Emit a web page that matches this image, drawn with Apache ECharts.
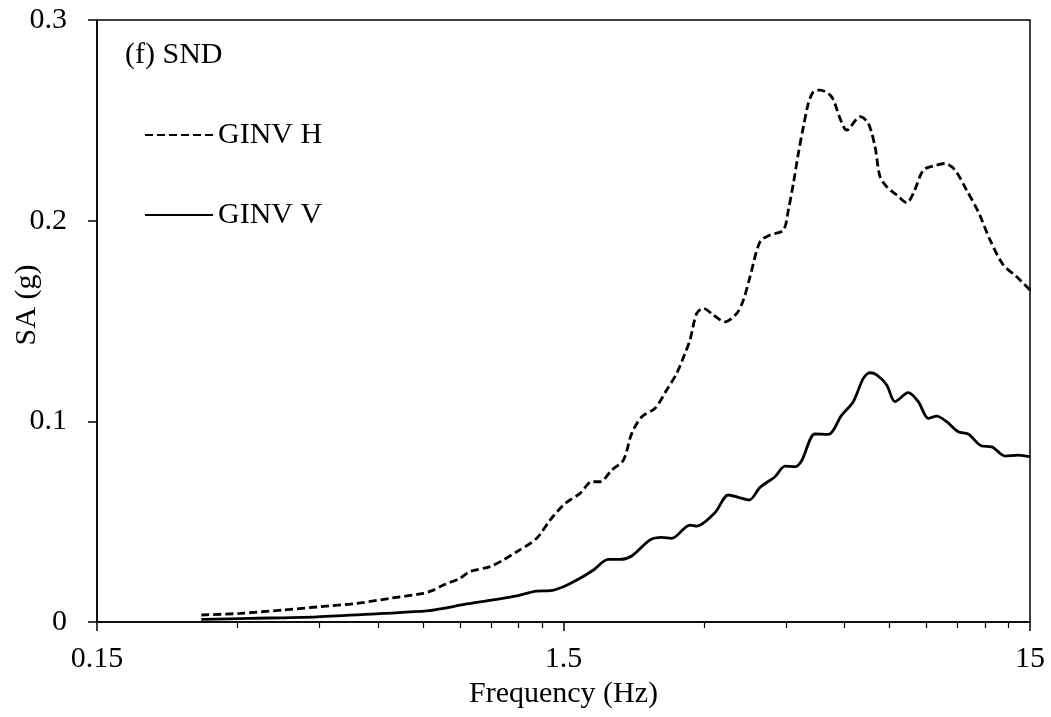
<!DOCTYPE html>
<html>
<head>
<meta charset="utf-8">
<script src="https://cdn.jsdelivr.net/npm/echarts@6/dist/echarts.min.js"></script>
<style>
html,body{margin:0;padding:0;background:#fff;}
#chart{width:1051px;height:717px;}
</style>
</head>
<body>
<div id="chart"></div>
<script>
// Frequency (Hz) and SA (g)
const freqH = [0.251,0.304,0.376,0.451,0.541,0.637,0.751,0.789,0.829,0.900,0.945,1.044,1.114,1.191,1.314,1.404,1.499,1.549,1.628,1.725,1.796,1.903,2.016,2.101,2.208,2.357,2.496,2.623,2.733,2.800,2.895,2.991,3.142,3.330,3.528,3.644,3.766,3.957,4.158,4.440,4.551,4.665,4.781,4.901,5.023,5.148,5.319,5.636,5.872,6.069,6.482,6.753,6.980,7.155,7.395,7.770,8.163,8.433,8.861,9.308,9.861,10.36,10.97,11.62,12.32,13.15,14.05,15.0];
const saH = [0.0035,0.0043,0.0060,0.0076,0.0093,0.0118,0.0143,0.0159,0.0184,0.0218,0.0251,0.0276,0.0309,0.0350,0.0417,0.0508,0.0583,0.0608,0.0641,0.0699,0.0699,0.0757,0.0807,0.0940,0.1023,0.1065,0.1156,0.1239,0.1339,0.1405,0.1538,0.1563,0.1530,0.1496,0.1538,0.1604,0.1720,0.1895,0.1928,0.1953,0.2053,0.2186,0.2335,0.2468,0.2584,0.2642,0.2651,0.2617,0.2510,0.2451,0.2518,0.2485,0.2368,0.2219,0.2169,0.2128,0.2089,0.2136,0.2252,0.2272,0.2285,0.2252,0.2152,0.2044,0.1903,0.1779,0.1720,0.1654];
const freqV = [0.251,0.319,0.444,0.616,0.764,0.829,0.930,1.079,1.191,1.314,1.404,1.499,1.628,1.739,1.871,1.983,2.101,2.300,2.436,2.559,2.800,2.895,3.168,3.385,3.584,3.753,3.957,4.260,4.476,4.703,4.860,5.190,5.542,5.922,6.270,6.589,6.809,7.039,7.395,7.703,8.226,8.643,9.080,9.465,9.944,10.53,11.06,11.82,12.42,13.26,14.16,15.0];
const saV = [0.0013,0.0018,0.0026,0.0043,0.0055,0.0068,0.0090,0.0113,0.0130,0.0154,0.0156,0.0176,0.0218,0.0259,0.0312,0.0312,0.0329,0.0409,0.0422,0.0417,0.0483,0.0478,0.0545,0.0633,0.0619,0.0608,0.0671,0.0724,0.0777,0.0774,0.0804,0.0937,0.0935,0.1031,0.1098,0.1214,0.1242,0.1231,0.1181,0.1098,0.1143,0.1098,0.1015,0.1026,0.0998,0.0948,0.0937,0.0877,0.0873,0.0827,0.0832,0.0824];
const seriesNames = ['GINV H','GINV V'];
const xMajorTicks = [0.15, 1.5, 15];
const xMajorLabels = ['0.15', '1.5', '15'];
const xMinorTicks = [0.3,0.45,0.6,0.75,0.9,1.05,1.2,1.35,3,4.5,6,7.5,9,10.5,12,13.5];
const panelLabel = '(f) SND';
const xTitle = 'Frequency (Hz)';
const yTitle = 'SA (g)';

const FONT = "'Liberation Serif','Times New Roman',serif";
const chart = echarts.init(document.getElementById('chart'), null, {renderer:'canvas'});

function pairs(xs, ys){ return xs.map((x,i)=>[x, ys[i]]); }

chart.setOption({
  animation:false,
  backgroundColor:'#fff',
  title:{text:panelLabel,left:120,top:35,textStyle:{fontFamily:FONT,fontSize:30,fontWeight:'normal',color:'#000'}},
  legend:{
    data:seriesNames, orient:'vertical', left:139, top:115, itemWidth:68, itemHeight:14, itemGap:50,
    itemStyle:{opacity:0},
    textStyle:{fontFamily:FONT,fontSize:30,color:'#000'}
  },
  grid:{left:97,right:21,top:20,bottom:95,show:true,borderColor:'#000',borderWidth:1.5,containLabel:false,outerBoundsMode:'none'},
  xAxis:[{
    type:'log', logBase:10, min:0.15, max:15, gridIndex:0,
    name:xTitle, nameLocation:'middle', nameGap:52,
    nameTextStyle:{fontFamily:FONT,fontSize:30,color:'#000'},
    axisLine:{show:true,lineStyle:{color:'#000',width:1.5}},
    axisTick:{show:true,inside:false,length:9,customValues:xMajorTicks,lineStyle:{color:'#000',width:1.5}},
    axisLabel:{show:true,margin:22,customValues:xMajorTicks,fontFamily:FONT,fontSize:30,color:'#000',
      formatter:function(v){ return v<0.5?xMajorLabels[0]:(v<5?xMajorLabels[1]:xMajorLabels[2]); }},
    splitLine:{show:false}, minorTick:{show:false}
  },{
    type:'log', logBase:10, min:0.15, max:15, gridIndex:0, position:'bottom',
    axisLine:{show:false},
    axisTick:{show:true,inside:false,length:6,customValues:xMinorTicks,lineStyle:{color:'#000',width:1.2}},
    axisLabel:{show:false}, splitLine:{show:false}
  }],
  yAxis:{
    type:'value', min:0, max:0.3, interval:0.1,
    name:yTitle, nameLocation:'middle', nameGap:55, nameMoveOverlap:false,
    nameTextStyle:{fontFamily:FONT,fontSize:30,color:'#000',padding:[0,0,0,32]},
    axisLine:{show:true,lineStyle:{color:'#000',width:1.5}},
    axisTick:{show:true,inside:false,length:9,lineStyle:{color:'#000',width:1.5}},
    axisLabel:{margin:30,fontFamily:FONT,fontSize:30,color:'#000'},
    splitLine:{show:false}
  },
  series:[{
    name:seriesNames[0], type:'line', xAxisIndex:0, data:pairs(freqH,saH), smooth:0.3,
    symbol:'none', showSymbol:false,
    lineStyle:{color:'#000',width:2.8,type:[8,4]}, itemStyle:{color:'#000'}
  },{
    name:seriesNames[1], type:'line', xAxisIndex:0, data:pairs(freqV,saV), smooth:0.3,
    symbol:'none', showSymbol:false,
    lineStyle:{color:'#000',width:2.8,type:'solid'}, itemStyle:{color:'#000'}
  }]
});
</script>
</body>
</html>
